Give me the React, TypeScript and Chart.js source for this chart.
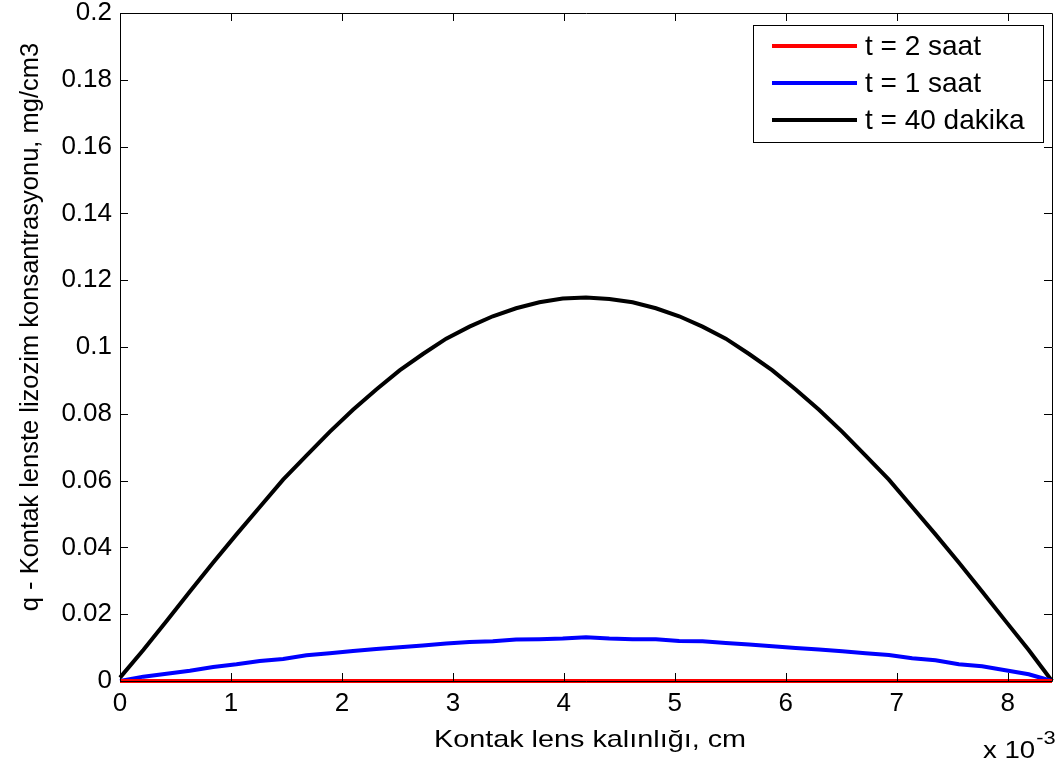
import React, { useEffect, useRef } from "react";
import { Chart, registerables } from "chart.js";

Chart.register(...registerables);

const X_VALUES = [
  0, 0.21, 0.42, 0.63, 0.84, 1.05, 1.26, 1.47, 1.68, 1.89, 2.1, 2.31, 2.52, 2.73,
  2.94, 3.15, 3.36, 3.57, 3.78, 3.99, 4.2, 4.41, 4.62, 4.83, 5.04, 5.25, 5.46,
  5.67, 5.88, 6.09, 6.3, 6.51, 6.72, 6.93, 7.14, 7.35, 7.56, 7.77, 7.98, 8.19, 8.4,
];

const SERIES_LABELS = ["t = 2 saat", "t = 1 saat", "t = 40 dakika"];
const SERIES_COLORS = ["#ff0000", "#0000ff", "#000000"];

const RED_2H = [
  0, 0, 0, 0, 0, 0, 0, 0, 0, 0, 0, 0, 0, 0, 0, 0, 0, 0, 0, 0, 0, 0, 0, 0, 0, 0, 0,
  0, 0, 0, 0, 0, 0, 0, 0, 0, 0, 0, 0, 0, 0,
];

const BLUE_1H = [
  0, 0.0013, 0.0022, 0.0031, 0.0042, 0.005, 0.006, 0.0066, 0.0077, 0.0083, 0.009,
  0.0096, 0.0101, 0.0106, 0.0112, 0.0117, 0.0119, 0.0124, 0.0125, 0.0127, 0.0131,
  0.0127, 0.0125, 0.0125, 0.012, 0.0119, 0.0114, 0.0109, 0.0104, 0.0099, 0.0094,
  0.0089, 0.0083, 0.0078, 0.0068, 0.0062, 0.005, 0.0044, 0.0032, 0.002, 0,
];

const BLACK_40M = [
  0.001, 0.0093, 0.018, 0.0268, 0.0355, 0.0439, 0.0521, 0.0603, 0.0675, 0.0746,
  0.0812, 0.0873, 0.093, 0.0979, 0.1025, 0.1061, 0.1092, 0.1116, 0.1134, 0.1145,
  0.1148, 0.1144, 0.1134, 0.1116, 0.1092, 0.1061, 0.1025, 0.0979, 0.093, 0.0873,
  0.0812, 0.0746, 0.0675, 0.0603, 0.0521, 0.0439, 0.0355, 0.0268, 0.018, 0.0093, 0,
];

const X_TICKS = [0, 1, 2, 3, 4, 5, 6, 7, 8];
const Y_TICKS = [0, 0.02, 0.04, 0.06, 0.08, 0.1, 0.12, 0.14, 0.16, 0.18, 0.2];

const X_TITLE = "Kontak lens kalınlığı, cm";
const Y_TITLE = "q - Kontak lenste lizozim konsantrasyonu, mg/cm3";
const X_EXP_BASE = "x 10";
const X_EXP_POWER = "-3";

const FONT = '"Liberation Sans", Arial, Helvetica, sans-serif';

const framePlugin = {
  id: "matlabFrame",
  afterDatasetsDraw(chart: any) {
    const { ctx, chartArea } = chart;
    const { left, right, top, bottom } = chartArea;
    const xs = chart.scales.x;
    const ys = chart.scales.y;
    const tl = 8;
    ctx.save();
    ctx.strokeStyle = "#000";
    ctx.lineWidth = 1;
    ctx.beginPath();
    ctx.rect(Math.round(left) + 0.5, Math.round(top) + 0.5, Math.round(right - left), Math.round(bottom - top));
    ctx.stroke();
    ctx.beginPath();
    X_TICKS.forEach((v) => {
      const px = Math.round(xs.getPixelForValue(v)) + 0.5;
      ctx.moveTo(px, bottom);
      ctx.lineTo(px, bottom - tl);
      ctx.moveTo(px, top);
      ctx.lineTo(px, top + tl);
    });
    Y_TICKS.forEach((v) => {
      const py = Math.round(ys.getPixelForValue(v)) + 0.5;
      ctx.moveTo(left, py);
      ctx.lineTo(left + tl, py);
      ctx.moveTo(right, py);
      ctx.lineTo(right - tl, py);
    });
    ctx.stroke();

    // x tick labels
    ctx.fillStyle = "#000";
    ctx.font = `26px ${FONT}`;
    ctx.textAlign = "center";
    ctx.textBaseline = "middle";
    X_TICKS.forEach((v) => {
      ctx.fillText(String(v), xs.getPixelForValue(v), 704);
    });

    // legend
    const bx = 753, by = 25, bw = 290, bh = 117;
    ctx.fillStyle = "#fff";
    ctx.fillRect(bx, by, bw, bh);
    ctx.strokeRect(bx + 0.5, by + 0.5, bw, bh);
    ctx.font = `28px ${FONT}`;
    ctx.textBaseline = "middle";
    ctx.textAlign = "left";
    chart.data.datasets.forEach((ds: any, i: number) => {
      const y = 46 + i * 37;
      ctx.strokeStyle = ds.borderColor;
      ctx.lineWidth = 4;
      ctx.beginPath();
      ctx.moveTo(772, y);
      ctx.lineTo(857, y);
      ctx.stroke();
      ctx.fillStyle = "#000";
      ctx.fillText(ds.label, 865, y + 1);
    });

    // titles
    ctx.fillStyle = "#000";
    ctx.font = `24px ${FONT}`;
    ctx.textAlign = "center";
    ctx.textBaseline = "middle";
    ctx.save();
    ctx.translate(590, 740);
    ctx.scale(1.2, 1);
    ctx.fillText(X_TITLE, 0, 0);
    ctx.restore();
    ctx.save();
    ctx.font = `25.5px ${FONT}`;
    ctx.translate(31, 327);
    ctx.rotate(-Math.PI / 2);
    ctx.fillText(Y_TITLE, 0, 0);
    ctx.restore();

    // exponent
    ctx.textAlign = "left";
    ctx.textBaseline = "alphabetic";
    ctx.save();
    ctx.translate(983, 758);
    ctx.scale(1.15, 1);
    ctx.font = `24px ${FONT}`;
    ctx.fillText(X_EXP_BASE, 0, 0);
    const w = ctx.measureText(X_EXP_BASE).width;
    ctx.font = `19px ${FONT}`;
    ctx.fillText(X_EXP_POWER, w + 1, -14);
    ctx.restore();
    ctx.restore();
  },
};

export default function App() {
  const ref = useRef<HTMLCanvasElement | null>(null);
  useEffect(() => {
    if (!ref.current) return;
    const series = [RED_2H, BLUE_1H, BLACK_40M];
    const chart = new Chart(ref.current, {
      type: "line",
      data: {
        datasets: series.map((vals, i) => ({
          label: SERIES_LABELS[i],
          data: X_VALUES.map((x, j) => ({ x, y: vals[j] })),
          borderColor: SERIES_COLORS[i],
          backgroundColor: SERIES_COLORS[i],
          borderWidth: 4,
          pointRadius: 0,
          tension: 0,
          fill: false,
          clip: false,
        })),
      },
      options: {
        responsive: false,
        animation: false,
        layout: { padding: { top: 13, right: 10, left: 0, bottom: 0 } },
        plugins: { legend: { display: false }, tooltip: { enabled: false } },
        scales: {
          x: {
            type: "linear",
            min: 0,
            max: 8.4,
            grid: { display: false, drawTicks: false },
            border: { display: false },
            afterBuildTicks: (s: any) => {
              s.ticks = X_TICKS.map((v) => ({ value: v }));
            },
            afterFit: (s: any) => {
              s.height = 86;
              s.paddingLeft = 0;
              s.paddingRight = 0;
            },
            ticks: {
              display: false,
              autoSkip: false,
              maxRotation: 0,
            },
          },
          y: {
            type: "linear",
            min: 0,
            max: 0.2,
            grid: { display: false, drawTicks: false },
            border: { display: false },
            afterBuildTicks: (s: any) => {
              s.ticks = Y_TICKS.map((v) => ({ value: v }));
            },
            afterFit: (s: any) => {
              s.width = 120;
              s.paddingTop = 0;
              s.paddingBottom = 0;
            },
            ticks: {
              color: "#000",
              padding: 8,
              autoSkip: false,
              font: { family: FONT, size: 26, lineHeight: 1 },
              callback: (v: any) => String(parseFloat(Number(v).toFixed(2))),
            },
          },
        },
      },
      plugins: [framePlugin],
    } as any);
    return () => chart.destroy();
  }, []);
  return (
    <canvas
      ref={ref}
      width={1062}
      height={767}
      style={{ position: "absolute", left: 0, top: 0, display: "block", background: "#fff" }}
    />
  );
}
